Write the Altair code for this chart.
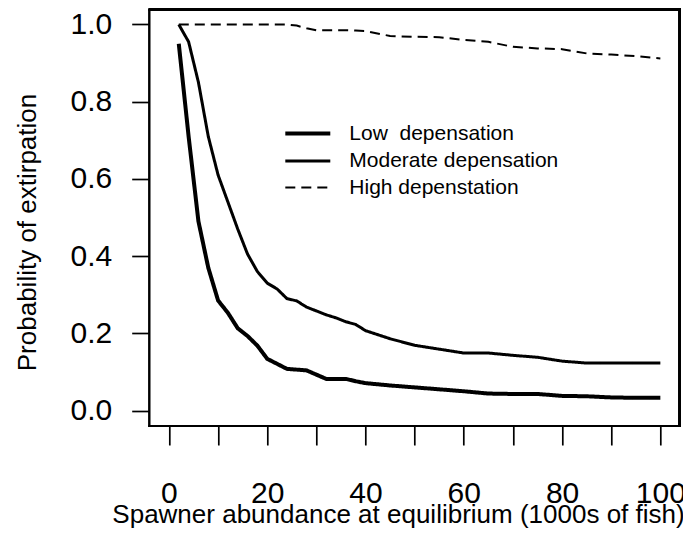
import altair as alt
import pandas as pd

abundance = [2, 4, 6, 8, 10, 12, 14, 16, 18, 20, 22, 24, 26, 28, 30, 32, 34, 36, 38, 40,
             45, 50, 55, 60, 65, 70, 75, 80, 85, 90, 95, 100]
low = [0.95, 0.71, 0.49, 0.37, 0.285, 0.253, 0.213, 0.193, 0.168, 0.134, 0.121, 0.108,
       0.106, 0.104, 0.093, 0.082, 0.082, 0.082, 0.076, 0.071,
       0.065, 0.060, 0.055, 0.050, 0.044, 0.043, 0.043, 0.038, 0.037, 0.034, 0.033, 0.033]
moderate = [1.0, 0.955, 0.85, 0.71, 0.61, 0.54, 0.47, 0.405, 0.36, 0.33, 0.315, 0.29,
            0.284, 0.268, 0.258, 0.248, 0.24, 0.23, 0.223, 0.207,
            0.186, 0.169, 0.159, 0.149, 0.149, 0.143, 0.138, 0.128, 0.123, 0.123, 0.123, 0.123]
high = [1.0, 1.0, 1.0, 1.0, 1.0, 1.0, 1.0, 1.0, 1.0, 1.0, 1.0, 1.0,
        0.997, 0.99, 0.985, 0.985, 0.985, 0.985, 0.984, 0.983,
        0.970, 0.968, 0.967, 0.960, 0.955, 0.942, 0.938, 0.936, 0.925, 0.922, 0.918, 0.912]

series_names = ["Low\u00a0 depensation", "Moderate depensation", "High depenstation"]
x_ticks = [0, 10, 20, 30, 40, 50, 60, 70, 80, 90, 100]
y_ticks = [0.0, 0.2, 0.4, 0.6, 0.8, 1.0]
x_domain = [-4, 104]
y_domain = [-0.04, 1.04]
x_frame = [-4, 103.8]
y_frame = [-0.04, 1.0374]

rows = []
for name, vals in zip(series_names, [low, moderate, high]):
    for xv, yv in zip(abundance, vals):
        rows.append({"x": xv, "y": yv, "series": name})
df = pd.DataFrame(rows)

FONT = "Liberation Sans"
W, H = 530.7, 417

legend = alt.Legend(
    title=None, orient="none", legendX=145, legendY=111,
    symbolType="M-2,0L2,0", symbolSize=506, symbolStrokeColor="black",
    symbolFillColor="transparent",
    labelFontSize=21, labelFont=FONT, labelColor="black", labelOffset=28,
    labelLimit=400, rowPadding=4, padding=0, offset=0,
)

lines = alt.Chart(df).mark_line(color="black", strokeCap="butt").encode(
    x=alt.X("x:Q",
            scale=alt.Scale(domain=x_domain, nice=False, zero=False),
            axis=alt.Axis(values=x_ticks,
                          labelExpr="datum.value % 20 == 0 ? datum.label : ''",
                          format="d", domain=False, grid=False,
                          tickSize=19, tickWidth=1.7, tickColor="black",
                          labelFontSize=30, labelFont=FONT, labelColor="black",
                          labelPadding=33, labelOverlap=False, labelFlush=False,
                          titleFontSize=26, titleFont=FONT, titleFontWeight="normal",
                          titleColor="black", titleX=248.7, titleY=96,
                          titleBaseline="alphabetic", titleAlign="center"),
            title="Spawner abundance at equilibrium (1000s of fish)"),
    y=alt.Y("y:Q",
            scale=alt.Scale(domain=y_domain, nice=False, zero=False),
            axis=alt.Axis(values=y_ticks, format=".1f", domain=False, grid=False,
                          tickSize=17.6, tickWidth=1.7, tickColor="black",
                          labelFontSize=30, labelFont=FONT, labelColor="black",
                          labelPadding=20, labelAngle=0, labelAlign="right",
                          labelBaseline="middle",
                          titleFontSize=26, titleFont=FONT, titleFontWeight="normal",
                          titleColor="black", titleX=-122.3, titleY=223,
                          titleAngle=270, titleBaseline="middle", titleAlign="center"),
            title="Probability of extirpation"),
    strokeWidth=alt.StrokeWidth("series:N",
                                scale=alt.Scale(domain=series_names, range=[4, 2, 2]),
                                legend=legend),
    strokeDash=alt.StrokeDash("series:N",
                              scale=alt.Scale(domain=series_names,
                                              range=[[1, 0], [1, 0], [10, 6]]),
                              legend=legend),
)

frame_df = pd.DataFrame({"frame": [0]})
frame_base = alt.Chart(frame_df).mark_rule(color="black", strokeWidth=2, strokeCap="square")
frame_left = frame_base.encode(x=alt.XDatum(x_frame[0]), y=alt.YDatum(y_frame[0]),
                               y2=alt.Y2Datum(y_frame[1]))
frame_right = frame_base.encode(x=alt.XDatum(x_frame[1]), y=alt.YDatum(y_frame[0]),
                                y2=alt.Y2Datum(y_frame[1]))
frame_bottom = frame_base.encode(y=alt.YDatum(y_frame[0]), x=alt.XDatum(x_frame[0]),
                                 x2=alt.X2Datum(x_frame[1]))
frame_top = frame_base.encode(y=alt.YDatum(y_frame[1]), x=alt.XDatum(x_frame[0]),
                              x2=alt.X2Datum(x_frame[1]))

chart = alt.layer(lines, frame_left, frame_right, frame_bottom, frame_top).properties(
    width=W, height=H, autosize="none",
    padding={"left": 141.3, "top": 1, "right": 3, "bottom": 103},
).configure(
    background="white"
).configure_view(
    stroke="black", strokeWidth=2
)

chart.save("out.html", embed_options={"renderer": "svg", "actions": False})
